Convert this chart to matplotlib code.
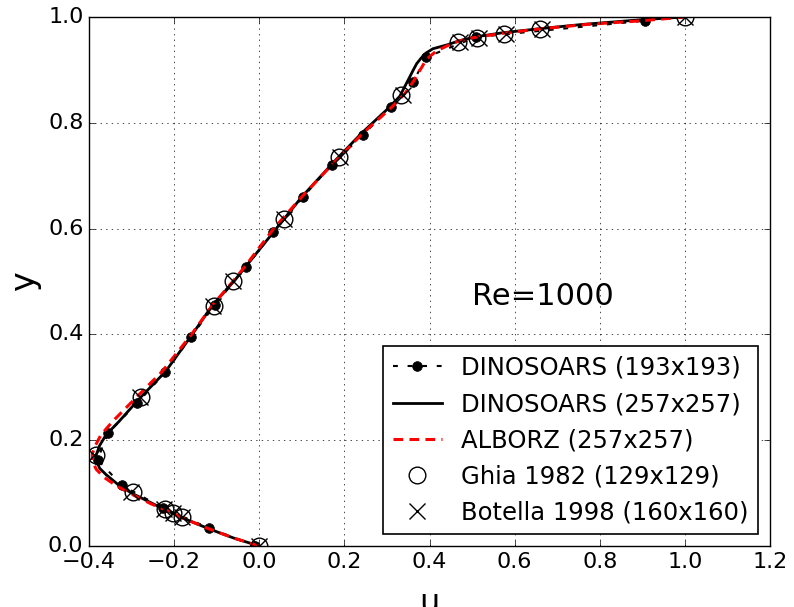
import numpy as np
import matplotlib
matplotlib.use("Agg")
import matplotlib.pyplot as plt

plt.style.use("classic")

# Ghia et al. 1982, u along vertical centreline, Re=1000
ghia_y = [1.0000, 0.9766, 0.9688, 0.9609, 0.9531, 0.8516, 0.7344, 0.6172, 0.5000,
          0.4531, 0.2813, 0.1719, 0.1016, 0.0703, 0.0625, 0.0547, 0.0000]
ghia_u = [1.00000, 0.65928, 0.57492, 0.51117, 0.46604, 0.33304, 0.18719, 0.05702,
          -0.06080, -0.10648, -0.27805, -0.38289, -0.29730, -0.22220, -0.20196,
          -0.18109, 0.00000]

# Botella & Peyret 1998
botella_y = ghia_y
botella_u = [1.0, 0.6644, 0.5808, 0.5169, 0.4723, 0.3372, 0.1887, 0.0570, -0.0621,
             -0.1082, -0.2804, -0.3886, -0.3005, -0.2229, -0.2023, -0.1813, 0.0]

# DINOSOARS 193x193
d193_y = [0.0, 0.034, 0.071, 0.115, 0.163, 0.214, 0.270, 0.328, 0.396, 0.456, 0.527,
          0.593, 0.659, 0.720, 0.777, 0.829, 0.878, 0.924, 0.962, 0.993]
d193_u = [-0.01, -0.118, -0.225, -0.323, -0.380, -0.355, -0.287, -0.221, -0.160,
          -0.104, -0.032, 0.033, 0.102, 0.170, 0.243, 0.309, 0.362, 0.392, 0.509, 0.906]

# DINOSOARS 257x257
d257_y = [0.0, 0.015, 0.033, 0.053, 0.068, 0.080, 0.100, 0.115, 0.135, 0.147, 0.160,
          0.172, 0.190, 0.210, 0.235, 0.280, 0.330, 0.397, 0.455, 0.500, 0.530, 0.600,
          0.660, 0.730, 0.780, 0.825, 0.850, 0.878, 0.900, 0.912, 0.922, 0.932, 0.940,
          0.947, 0.955, 0.962, 0.970, 0.978, 0.986, 0.995, 1.0]
d257_u = [0.0, -0.060, -0.120, -0.180, -0.220, -0.250, -0.300, -0.330, -0.360, -0.375,
          -0.382, -0.383, -0.375, -0.360, -0.330, -0.280, -0.220, -0.160, -0.110,
          -0.060, -0.030, 0.040, 0.100, 0.180, 0.240, 0.300, 0.330, 0.348, 0.362,
          0.370, 0.380, 0.392, 0.408, 0.440, 0.470, 0.505, 0.570, 0.660, 0.760, 0.900, 1.0]

# ALBORZ 257x257
alb_y = [0.0, 0.015, 0.033, 0.053, 0.068, 0.080, 0.100, 0.115, 0.130, 0.145, 0.160,
         0.175, 0.190, 0.210, 0.235, 0.280, 0.330, 0.397, 0.455, 0.500, 0.530, 0.600,
         0.660, 0.720, 0.780, 0.830, 0.855, 0.878, 0.900, 0.920, 0.935, 0.945, 0.955,
         0.962, 0.970, 0.978, 0.986, 0.993, 1.0]
alb_u = [0.0, -0.060, -0.120, -0.180, -0.220, -0.255, -0.305, -0.338, -0.365, -0.383,
         -0.392, -0.392, -0.385, -0.372, -0.345, -0.290, -0.228, -0.162, -0.110,
         -0.062, -0.032, 0.034, 0.100, 0.170, 0.243, 0.312, 0.342, 0.362, 0.378,
         0.393, 0.415, 0.440, 0.470, 0.510, 0.580, 0.665, 0.770, 0.900, 1.0]

fig = plt.figure(figsize=(7.94, 6.07), dpi=100, facecolor="white")
ax = fig.add_axes([0.1121, 0.1005, 0.8577, 0.8715])

ax.plot(d193_u, d193_y, "k--", marker="o", markersize=7, linewidth=1.5,
        dashes=(3.5, 7), label="DINOSOARS (193x193)")
ax.plot(d257_u, d257_y, "k-", linewidth=2, label="DINOSOARS (257x257)")
ax.plot(alb_u, alb_y, "r--", linewidth=2.2, dashes=(7, 4.5), label="ALBORZ (257x257)")
ax.plot(ghia_u, ghia_y, "o", markersize=12, markerfacecolor="none",
        markeredgecolor="k", markeredgewidth=1, label="Ghia 1982 (129x129)")
ax.plot(botella_u, botella_y, "x", markersize=12, markeredgecolor="k",
        markeredgewidth=1, label="Botella 1998 (160x160)")

ax.set_xlim(-0.4, 1.2)
ax.set_ylim(0.0, 1.0)
ax.set_xticks(np.arange(-0.4, 1.21, 0.2))
ax.set_yticks(np.arange(0.0, 1.01, 0.2))
ax.tick_params(labelsize=16)
ax.grid(True)
ax.set_xlabel("u", fontsize=23, labelpad=12)
ax.set_ylabel("y", fontsize=24)

ax.text(0.667, 0.471, "Re=1000", fontsize=22, ha="center", va="center")

leg = ax.legend(loc="lower right", numpoints=1, fontsize=17.5, frameon=True,
                fancybox=False, handlelength=2.0, borderaxespad=0.48)
leg.get_frame().set_linewidth(1.2)

fig.savefig("out.png", dpi=100, facecolor="white")
